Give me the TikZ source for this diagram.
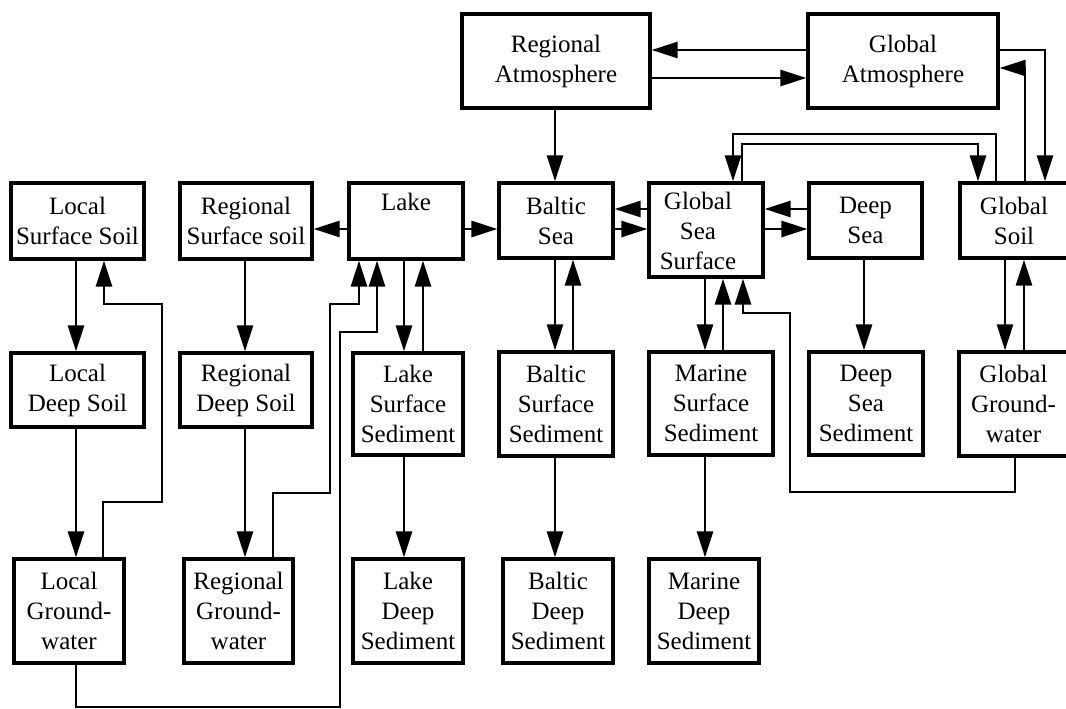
\documentclass[tikz,border=0pt]{standalone}
\usepackage{fontspec}
\setmainfont{Liberation Serif}
\usetikzlibrary{arrows.meta}
\begin{document}
\begin{tikzpicture}[x=1pt,y=-1pt,
  box/.style={draw, line width=3.3pt, inner sep=0pt, align=center, font=\fontsize{25}{30}\selectfont},
  txt/.style={inner sep=0pt, align=center, font=\fontsize{25}{30}\selectfont},
  arr/.style={line width=2.8pt, -{Triangle[length=26pt,width=16pt]}}]
\useasboundingbox (0,0) rectangle (1066,709);
% boxes
\node[box,minimum width=188pt,minimum height=94pt] (ra) at (556,61) {Regional\\Atmosphere};
\node[box,minimum width=190pt,minimum height=94pt] (ga) at (903,61) {Global\\Atmosphere};
\node[box,minimum width=133pt,minimum height=76pt] (lss) at (77.5,221) {Local\\Surface Soil};
\node[box,minimum width=132pt,minimum height=76pt] (rss) at (246,221) {Regional\\Surface soil};
\node[box,minimum width=114pt,minimum height=76pt] (lake) at (406,221) {Lake\\\strut};
\node[box,minimum width=114pt,minimum height=75pt] (bs) at (556,220.5) {Baltic\\Sea};
\node[box,minimum width=114pt,minimum height=94pt] (gss) at (706,230) {};
\node[txt] (gsstext) at (698,231) {Global\\Sea\\Surface};
\node[box,minimum width=113pt,minimum height=75pt] (ds) at (865.5,220.5) {Deep\\Sea};
\node[box,minimum width=108pt,minimum height=75pt] (gs) at (1014,220.5) {Global\\Soil};
\node[box,minimum width=133pt,minimum height=74pt] (lds) at (77.5,390) {Local\\Deep Soil};
\node[box,minimum width=132pt,minimum height=74pt] (rds) at (246,390) {Regional\\Deep Soil};
\node[box,minimum width=110pt,minimum height=102pt] (lsed) at (408,404) {Lake\\Surface\\Sediment};
\node[box,minimum width=114pt,minimum height=104pt] (bsed) at (556,404) {Baltic\\Surface\\Sediment};
\node[box,minimum width=124pt,minimum height=103pt] (msed) at (711,403.5) {Marine\\Surface\\Sediment};
\node[box,minimum width=114pt,minimum height=103pt] (dsed) at (866,403.5) {Deep\\Sea\\Sediment};
\node[box,minimum width=109pt,minimum height=104pt] (ggw) at (1013.5,404) {Global\\Ground-\\water};
\node[box,minimum width=110pt,minimum height=104pt] (lgw) at (69,611) {Local\\Ground-\\water};
\node[box,minimum width=109pt,minimum height=104pt] (rgw) at (238.5,611) {Regional\\Ground-\\water};
\node[box,minimum width=110pt,minimum height=104pt] (lded) at (408,611) {Lake\\Deep\\Sediment};
\node[box,minimum width=110pt,minimum height=104pt] (bded) at (558,611) {Baltic\\Deep\\Sediment};
\node[box,minimum width=110pt,minimum height=104pt] (mded) at (704,611) {Marine\\Deep\\Sediment};
% connectors
\draw[arr] (ga.west |- 0,50) -- (ra.east |- 0,50);
\draw[arr] (ra.east |- 0,78) -- (ga.west |- 0,78);
\draw[arr] (ga.east |- 0,50) -| (gs.north -| 1045,0);
\draw[arr] (gs.north -| 1025,0) |- (ga.east |- 0,68);
\draw[arr] (ra.south -| 555,0) -- (bs.north -| 555,0);
\draw[arr] (gs.north -| 996,0) |- (733,134) -- (gss.north -| 733,0);
\draw[arr] (gss.north -| 742,0) |- (978,144) -- (gs.north -| 978,0);
\draw[arr] (lake.west |- 0,229) -- (rss.east |- 0,229);
\draw[arr] (lake.east |- 0,229) -- (bs.west |- 0,229);
\draw[arr] (gss.west |- 0,209) -- (bs.east |- 0,209);
\draw[arr] (bs.east |- 0,229) -- (gss.west |- 0,229);
\draw[arr] (ds.west |- 0,209) -- (gss.east |- 0,209);
\draw[arr] (gss.east |- 0,229) -- (ds.west |- 0,229);
\draw[arr] (lss.south -| 76,0) -- (lds.north -| 76,0);
\draw[arr] (lgw.north -| 103,0) -- (103,502) -- (162,502) -- (162,304) -- (104,304) -- (lss.south -| 104,0);
\draw[arr] (rss.south -| 245,0) -- (rds.north -| 245,0);
\draw[arr] (rds.south -| 245,0) -- (rgw.north -| 245,0);
\draw[arr] (lds.south -| 76,0) -- (lgw.north -| 76,0);
\draw[arr] (rgw.north -| 273,0) -- (273,493) -- (330,493) -- (330,304) -- (359,304) -- (lake.south -| 359,0);
\draw[arr] (lgw.south -| 76,0) -- (76,707) -- (340,707) -- (340,332) -- (377,332) -- (lake.south -| 377,0);
\draw[arr] (lake.south -| 404,0) -- (lsed.north -| 404,0);
\draw[arr] (lsed.north -| 423,0) -- (lake.south -| 423,0);
\draw[arr] (lsed.south -| 404,0) -- (lded.north -| 404,0);
\draw[arr] (bs.south -| 555,0) -- (bsed.north -| 555,0);
\draw[arr] (bsed.north -| 573,0) -- (bs.south -| 573,0);
\draw[arr] (bsed.south -| 555,0) -- (bded.north -| 555,0);
\draw[arr] (gss.south -| 705,0) -- (msed.north -| 705,0);
\draw[arr] (msed.north -| 723,0) -- (gss.south -| 723,0);
\draw[arr] (ggw.south -| 1015,0) -- (1015,492) -- (790,492) -- (790,313) -- (743,313) -- (gss.south -| 743,0);
\draw[arr] (msed.south -| 705,0) -- (mded.north -| 705,0);
\draw[arr] (ds.south -| 864,0) -- (dsed.north -| 864,0);
\draw[arr] (gs.south -| 1005,0) -- (ggw.north -| 1005,0);
\draw[arr] (ggw.north -| 1024,0) -- (gs.south -| 1024,0);
\end{tikzpicture}
\end{document}
